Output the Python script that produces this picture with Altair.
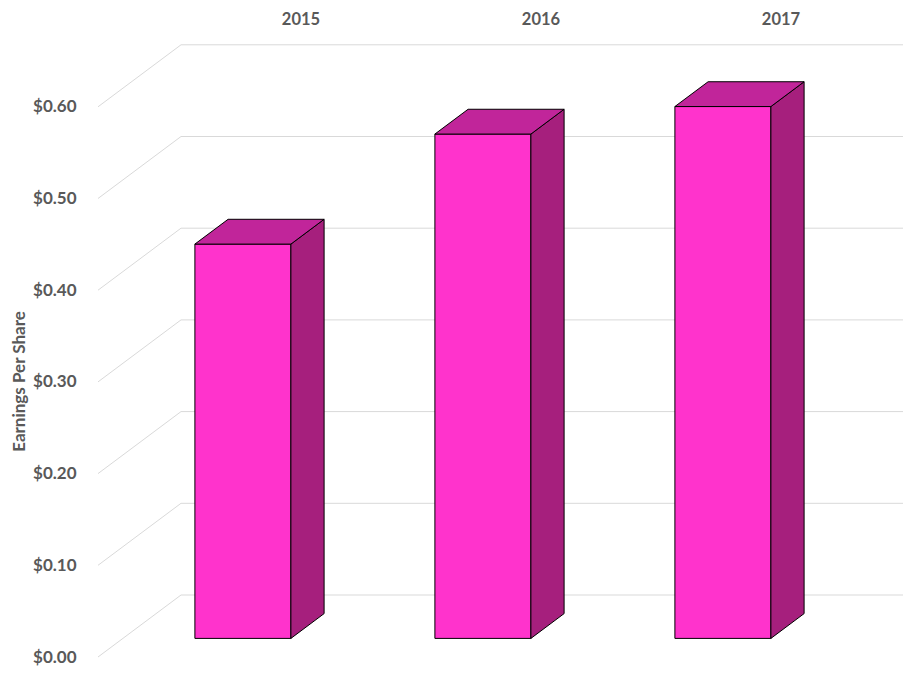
import altair as alt
import pandas as pd

# ---- data ----
years = ["2015", "2016", "2017"]
eps = [0.43, 0.55, 0.58]
tick_values = [0.0, 0.1, 0.2, 0.3, 0.4, 0.5, 0.6]

# ---- 3D projection constants (category units / value units) ----
DX = 83 / 240      # horizontal shift of the full depth, in category widths
DY = 62 / 917      # vertical shift of the full depth, in value units
D0, D1 = 0.3, 0.7  # bar depth span
HALF = 0.2         # half bar width in category widths

front, side, top = [], [], []
for i, (yr, v) in enumerate(zip(years, eps)):
    c = i + 0.5
    front.append(dict(year=yr, x=c - HALF + D0 * DX, x2=c + HALF + D0 * DX,
                      y=D0 * DY, y2=v + D0 * DY))
    for d in (D0, D1):
        side.append(dict(year=yr, x=c + HALF + d * DX, ytop=v + d * DY, ybot=d * DY))
        top.append(dict(year=yr, y=v + d * DY, xl=c - HALF + d * DX, xr=c + HALF + d * DX))

diag = pd.DataFrame([dict(x=0.0, y=t, x2=DX, y2=t + DY) for t in tick_values])
back = pd.DataFrame([dict(x=DX, x2=len(years) + DX + 0.01, y=t + DY) for t in tick_values])
labels = pd.DataFrame([dict(year=yr, x=i + 0.5 + DX) for i, yr in enumerate(years)])

W = 805
XS = alt.Scale(domain=[0, W / 240], nice=False, zero=False)
YS = alt.Scale(domain=[0, 625 / 917], nice=False, zero=False)
TXT = "#595959"
GRID = "#D9D9D9"

yaxis = alt.Axis(values=tick_values, format="$.2f", labelFont="Lato",
                 labelFontWeight="bold", labelFontSize=17, labelColor=TXT,
                 domain=False, ticks=False, grid=False, labelPadding=22,
                 title="Earnings Per Share", titleFont="Lato", titleFontWeight="bold",
                 titleFontSize=17, titleColor=TXT, titleX=-79, titleY=349,
                 titleAngle=270, titleAlign="center", titleBaseline="middle")

def Y(field):
    return alt.Y(field, scale=YS, axis=yaxis)

def X(field):
    return alt.X(field, scale=XS, axis=None)

diag_l = alt.Chart(diag).mark_rule(color=GRID, strokeWidth=1).encode(
    x=X("x:Q"), x2="x2:Q", y=Y("y:Q"), y2="y2:Q")

back_l = alt.Chart(back).mark_rule(color=GRID, strokeWidth=1).encode(
    x=X("x:Q"), x2="x2:Q", y=Y("y:Q"))

front_l = alt.Chart(pd.DataFrame(front)).mark_rect(
    fill="#FF33CC", stroke="#000000", strokeWidth=1).encode(
    x=X("x:Q"), x2="x2:Q", y=Y("y:Q"), y2="y2:Q")

side_l = alt.Chart(pd.DataFrame(side)).mark_area(
    fill="#A61F7D", stroke="#000000", strokeWidth=1, opacity=1).encode(
    x=X("x:Q"), y=Y("ytop:Q"), y2="ybot:Q", detail="year:N")

top_l = alt.Chart(pd.DataFrame(top)).mark_area(
    orient="horizontal", fill="#C1259A", stroke="#000000", strokeWidth=1, opacity=1).encode(
    y=Y("y:Q"), x=X("xl:Q"), x2="xr:Q", detail="year:N")

label_l = alt.Chart(labels).mark_text(
    font="Lato", fontWeight="bold", fontSize=16.5, color=TXT, baseline="middle").encode(
    x=X("x:Q"), y=alt.value(-12), text="year:N")

chart = alt.layer(diag_l, back_l, front_l, side_l, top_l, label_l).properties(
    width=W, height=625, autosize="none",
    padding={"left": 90, "top": 24, "right": 0, "bottom": 10},
).configure_view(stroke=None)

chart.save("out.html", embed_options={"renderer": "svg", "actions": False})
